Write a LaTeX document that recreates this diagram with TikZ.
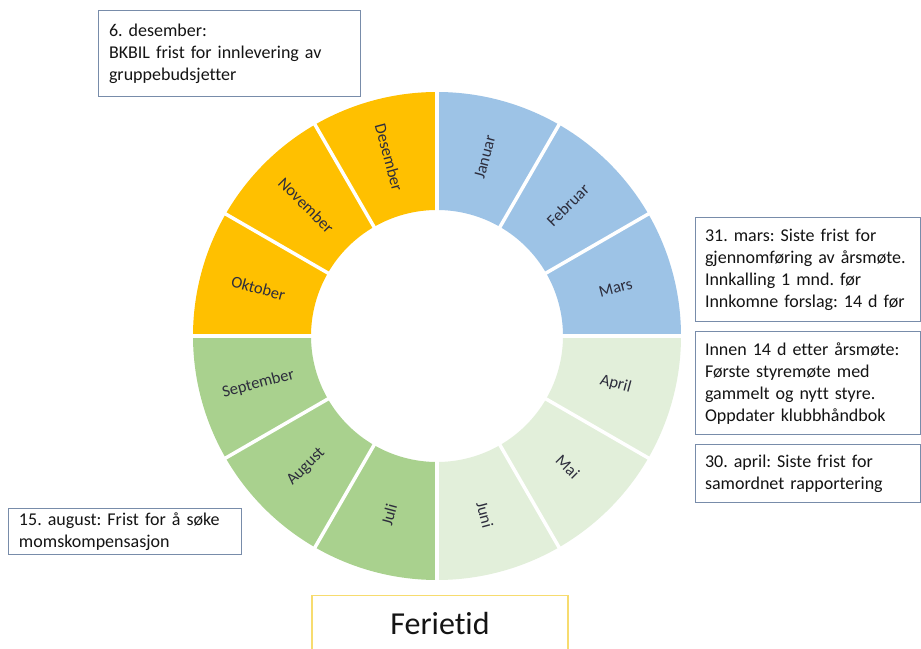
\documentclass[tikz,border=0pt]{standalone}
\usepackage{fontspec}
\setmainfont{Carlito}[Ligatures=CommonOff]
\frenchspacing
\definecolor{cblue}{RGB}{157,195,230}
\definecolor{clgreen}{RGB}{226,239,218}
\definecolor{cgreen}{RGB}{169,209,142}
\definecolor{cgold}{RGB}{255,192,0}
\definecolor{boxline}{RGB}{120,140,170}
\definecolor{ferieline}{RGB}{247,220,111}
\definecolor{txt}{RGB}{20,20,20}
\definecolor{mtxt}{RGB}{45,45,60}
\begin{document}
\begin{tikzpicture}[x=1pt,y=1pt,
  box/.style={draw=boxline, line width=1pt, fill=white, rectangle, align=left,
    font=\fontsize{18}{22}\selectfont\frenchspacing, text=txt, inner ysep=0pt, inner xsep=11pt},
  mlabel/.style={font=\fontsize{16.5}{20}\selectfont, text=mtxt, inner sep=0pt}]
\useasboundingbox (0,0) rectangle (921,648);
\fill[white] (0,0) rectangle (921,648);
\begin{scope}[shift={(437,312)}]
  \foreach \i/\col in {0/cblue,1/cblue,2/cblue,3/clgreen,4/clgreen,5/clgreen,6/cgreen,7/cgreen,8/cgreen,9/cgold,10/cgold,11/cgold}{
    \pgfmathsetmacro{\aa}{90-30*\i}
    \pgfmathsetmacro{\ab}{60-30*\i}
    \fill[\col] (\aa:244) arc[start angle=\aa, end angle=\ab, radius=244]
      -- (\ab:126) arc[start angle=\ab, end angle=\aa, radius=126] -- cycle;
  }
  \foreach \a in {0,30,...,330}
    \draw[white, line width=3.5pt] (\a:123) -- (\a:247);
  \foreach \m/\a/\r in {Januar/75/75, Februar/45/45, Mars/15/15, April/-15/-15,
      Mai/-45/-45, Juni/-75/-75, Juli/-105/75, August/-135/45, September/-165/15,
      Oktober/165/-15, November/135/-45, Desember/105/-75}
    \node[mlabel, rotate=\r] (m\m) at (\a:185) {\m};
\end{scope}

\node[box, minimum width=262pt, minimum height=86pt, text width=240pt] (des) at (229,594)
  {6. desember:\\BKBIL frist for innlevering av\\gruppebudsjetter};
\node[box, minimum width=225pt, minimum height=104pt, text width=205pt, inner xsep=10pt] (mars) at (807.5,378)
  {31. mars: Siste frist for\\gjennomføring av årsmøte.\\Innkalling 1 mnd. før\\Innkomne forslag: 14 d før};
\node[box, minimum width=225pt, minimum height=103pt, text width=205pt, inner xsep=10pt] (innen) at (807.5,264.5)
  {Innen 14 d etter årsmøte:\\Første styremøte med\\gammelt og nytt styre.\\Oppdater klubbhåndbok};
\node[box, minimum width=225pt, minimum height=58pt, text width=205pt, inner xsep=10pt] (april) at (807.5,174)
  {30. april: Siste frist for\\samordnet rapportering};
\node[box, minimum width=233pt, minimum height=46pt, text width=211pt] (aug) at (124.5,116)
  {15. august: Frist for å søke\\momskompensasjon};
\node[draw=ferieline, line width=1.2pt, fill=white, minimum width=256pt, minimum height=56pt,
  anchor=north, font=\fontsize{32}{38}\selectfont, text=txt] (ferie) at (440,53) {Ferietid};
\end{tikzpicture}
\end{document}
